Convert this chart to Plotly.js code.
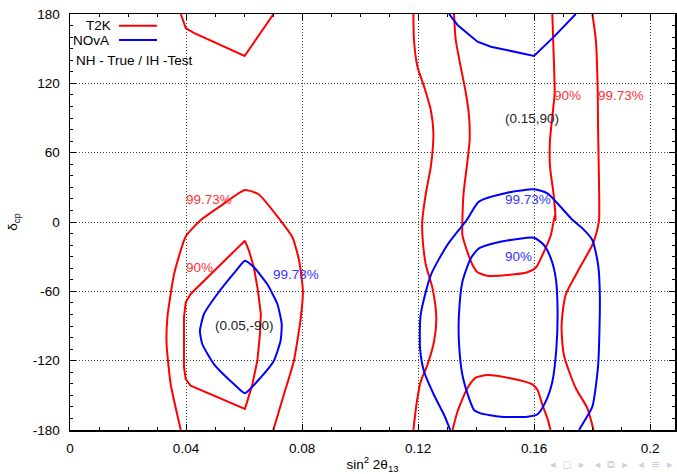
<!DOCTYPE html>
<html>
<head>
<meta charset="utf-8">
<script src="https://cdn.plot.ly/plotly-3.0.1.min.js"></script>
<style>html,body{margin:0;padding:0;background:#fff;}#chart{width:677px;height:474px;}</style>
</head>
<body>
<div id="chart"></div>
<script>
// ---- T2K (red) contours ----
// 99.73% left region, part wrapped at top
const t2k997LeftTopX = [0.0382, 0.0399, 0.0427, 0.0602, 0.0702];
const t2k997LeftTopY = [180, 167.9, 163.6, 143.7, 180];
// 99.73% left region, lower part
const t2k997LeftX = [0.0382, 0.0347, 0.0333, 0.0336, 0.0359, 0.0399, 0.0451, 0.0520, 0.0603, 0.0650, 0.0727, 0.0768, 0.0790, 0.0803, 0.0796, 0.0772, 0.0738, 0.0701];
const t2k997LeftY = [-180, -140.2, -105.6, -82.2, -45, -12.5, 1.7, 14, 27.7, 24, 0.9, -13.8, -33.5, -59.5, -82.5, -120, -148.9, -180];
// 90% left region
const t2k90LeftX = [0.0603, 0.0416, 0.0399, 0.0393, 0.0393, 0.0399, 0.0416, 0.0603, 0.0612, 0.0629, 0.0646, 0.0655, 0.0658, 0.0648, 0.0634, 0.0617, 0.0603];
const t2k90LeftY = [-16.2, -62.3, -69.5, -82.5, -125.7, -135.9, -141.7, -161.8, -154.6, -140.2, -120, -96.9, -79.6, -59.5, -39.2, -24.8, -16.2];
// 99.73% right band, left edge
const t2k997RightAX = [0.1184, 0.1186, 0.1198, 0.1221, 0.1244, 0.1253, 0.1244, 0.1227, 0.1215, 0.1215, 0.1227, 0.1250, 0.1263, 0.1255, 0.1232, 0.1209, 0.1196, 0.1184];
const t2k997RightAY = [180, 157.5, 134.4, 117.1, 96.9, 76.8, 47.9, 24.8, 1.7, -11.3, -37.2, -57.4, -83.3, -103.6, -123.8, -138.2, -155.5, -180];
// 99.73% right band, right edge
const t2k997RightBX = [0.1801, 0.1813, 0.1819, 0.1821, 0.1824, 0.1824, 0.1813, 0.1801, 0.1750, 0.1709, 0.1695, 0.1703, 0.1744, 0.1784, 0.1805];
const t2k997RightBY = [180, 157.5, 120, 76.8, 33.5, 1.7, -11.3, -19.9, -43, -63.2, -89.1, -115.1, -143.9, -161.2, -180];
// 90% right region, upper part (U shape)
const t2k90RightUpX = [0.1324, 0.1330, 0.1347, 0.1365, 0.1376, 0.1378, 0.1368, 0.1357, 0.1353, 0.1353, 0.1370, 0.1388, 0.1405, 0.1439, 0.1508, 0.1577, 0.1606, 0.1629, 0.1658, 0.1672, 0.1675, 0.1667, 0.1655, 0.1655, 0.1663, 0.1671, 0.1669, 0.1663];
const t2k90RightUpY = [180, 157.5, 134.4, 111.4, 91.1, 71, 47.9, 24.8, 1.7, -11.3, -25.7, -37.2, -43.5, -46.5, -45.9, -43.5, -39.6, -28.6, -11.3, 6.1, 1.7, 24.8, 47.9, 71, 91.1, 111.4, 134.4, 180];
// 90% right region, lower part (cap)
const t2k90RightLowX = [0.1319, 0.1336, 0.1370, 0.1399, 0.1439, 0.1519, 0.1594, 0.1612, 0.1629, 0.1646, 0.1657];
const t2k90RightLowY = [-180, -164.2, -143.9, -134.7, -132.4, -135.3, -140.5, -145.4, -158.4, -169.9, -180];

// ---- NOvA (blue) contours ----
// 99.73% left region
const nova997LeftX = [0.0603, 0.0634, 0.0680, 0.0715, 0.0730, 0.0726, 0.0703, 0.0658, 0.0603, 0.0565, 0.0496, 0.0456, 0.0448, 0.0462, 0.0508, 0.0577, 0.0603];
const nova997LeftY = [-33.5, -39.2, -53.7, -71, -88.3, -102.7, -120, -134.4, -148.2, -140.2, -122.9, -105.6, -94.1, -79.6, -62.3, -40.7, -33.5];
// 99.73% right region, part wrapped at top
const nova997RightTopX = [0.1307, 0.1336, 0.1370, 0.1405, 0.1451, 0.1600, 0.1669, 0.1744];
const nova997RightTopY = [180, 170.5, 163.3, 156, 151.7, 143.7, 160.4, 180];
// 99.73% right region, lower part
const nova997RightX = [0.1311, 0.1290, 0.1255, 0.1221, 0.1207, 0.1209, 0.1244, 0.1301, 0.1368, 0.1410, 0.1508, 0.1600, 0.1646, 0.1733, 0.1767, 0.1801, 0.1821, 0.1827, 0.1821, 0.1801, 0.1772, 0.1755];
const nova997RightY = [-180, -167, -149.7, -129.6, -109.3, -80.5, -45.9, -19.9, 1.7, 17.6, 25.4, 28.3, 24.8, 1.7, -5.5, -15.6, -37.2, -66, -123.8, -159.8, -172.8, -180];
// 90% right region
const nova90RightX = [0.1600, 0.1634, 0.1658, 0.1675, 0.1681, 0.1677, 0.1663, 0.1640, 0.1612, 0.1577, 0.1485, 0.1416, 0.1393, 0.1376, 0.1353, 0.1341, 0.1341, 0.1353, 0.1382, 0.1410, 0.1462, 0.1543, 0.1600];
const nova90RightY = [-13.6, -19.9, -31.4, -48.7, -74.7, -109.3, -138.2, -155.5, -166.4, -168.5, -168.5, -165.6, -162.7, -152.6, -132.4, -103.6, -80.5, -51.7, -31.4, -22.8, -18.4, -14.7, -13.6];

// ---- labels ----
const labelText  = ["99.73%", "90%", "99.73%", "(0.05,-90)", "90%", "99.73%", "(0.15,90)", "99.73%", "90%"];
const labelX     = [0.048, 0.0447, 0.0778, 0.0602, 0.1717, 0.1899, 0.1594, 0.158, 0.1547];
const labelY     = [19.9, -39, -45, -89.7, 109.9, 109.9, 90, 19.9, -30];
const labelKind  = ["t2k", "t2k", "nova", "point", "t2k", "t2k", "point", "nova", "nova"];

const xTicks = [0, 0.04, 0.08, 0.12, 0.16, 0.2];
const xTickText = ["0", "0.04", "0.08", "0.12", "0.16", "0.2"];
const yTicks = [-180, -120, -60, 0, 60, 120, 180];
const yTickText = ["-180", "-120", "-60", "0", "60", "120", "180"];

const RED = "#ff0000", BLUE = "#0000ff";
const FONT = "Liberation Sans, Arial, sans-serif";

function line(x, y, c, name, smooth) {
  const ln = {color: c, width: 2};
  if (smooth) { ln.shape = "spline"; ln.smoothing = smooth; }
  return {x: x, y: y, type: "scatter", mode: "lines", name: name,
          line: ln, hoverinfo: "skip", showlegend: false};
}
const traces = [
  line(t2k997LeftTopX, t2k997LeftTopY, RED, "T2K", 0),
  line(t2k997LeftX, t2k997LeftY, RED, "T2K", 0.5),
  line(t2k90LeftX, t2k90LeftY, RED, "T2K", 0),
  line(t2k997RightAX, t2k997RightAY, RED, "T2K", 0.7),
  line(t2k997RightBX, t2k997RightBY, RED, "T2K", 0.7),
  line(t2k90RightUpX, t2k90RightUpY, RED, "T2K", 0.6),
  line(t2k90RightLowX, t2k90RightLowY, RED, "T2K", 0.6),
  line(nova997LeftX, nova997LeftY, BLUE, "NOvA", 0.5),
  line(nova997RightTopX, nova997RightTopY, BLUE, "NOvA", 0),
  line(nova997RightX, nova997RightY, BLUE, "NOvA", 0.6),
  line(nova90RightX, nova90RightY, BLUE, "NOvA", 0.6)
];

const kindColor = {t2k: "#ff3333", nova: "#3333ff", point: "#222222"};
const annotations = labelText.map((t, i) => ({
  x: labelX[i], y: labelY[i], xref: "x", yref: "y", text: t, showarrow: false,
  xanchor: "center", yanchor: "middle",
  font: {family: FONT, size: 13.5, color: kindColor[labelKind[i]]}
}));
// legend (gnuplot style: text then line sample)
annotations.push(
  {x: 0.0705, y: 0.972, xref: "paper", yref: "paper", text: "T2K", showarrow: false, xanchor: "right", yanchor: "middle", font: {family: FONT, size: 13.5, color: "#000"}},
  {x: 0.0675, y: 0.9375, xref: "paper", yref: "paper", text: "NOvA", showarrow: false, xanchor: "right", yanchor: "middle", font: {family: FONT, size: 13.5, color: "#000"}},
  {x: 0.007, y: 0.889, xref: "paper", yref: "paper", text: "NH - True / IH -Test", showarrow: false, xanchor: "left", yanchor: "middle", font: {family: FONT, size: 13.5, color: "#000"}},
  {x: 1.0, y: -0.082, xref: "paper", yref: "paper", text: "◂  ◻  ▸   ◂  ⧉  ▸   ◂  ≡  ▸", showarrow: false, xanchor: "right", yanchor: "middle", font: {family: "DejaVu Sans", size: 11, color: "#d4cce4"}}
);
const shapes = [
  {type: "line", xref: "paper", yref: "paper", x0: 0.081, x1: 0.1438, y0: 0.972, y1: 0.972, line: {color: RED, width: 2}},
  {type: "line", xref: "paper", yref: "paper", x0: 0.081, x1: 0.1438, y0: 0.9375, y1: 0.9375, line: {color: BLUE, width: 2}}
];

const axisCommon = {
  showline: true, linecolor: "#000", linewidth: 1.5, mirror: "ticks",
  ticks: "inside", ticklen: 6, tickwidth: 1, tickcolor: "#000",
  showgrid: true, gridcolor: "#444", griddash: "1px,2px", gridwidth: 1,
  zeroline: false, tickfont: {family: FONT, size: 13.5, color: "#000"}
};
const layout = {
  width: 677, height: 474,
  margin: {l: 70, r: 2, t: 14, b: 44},
  paper_bgcolor: "#fff", plot_bgcolor: "#fff",
  showlegend: false,
  font: {family: FONT, size: 13.5, color: "#000"},
  xaxis: Object.assign({}, axisCommon, {
    range: [0, 0.2086], tickmode: "array", tickvals: xTicks, ticktext: xTickText,
    minor: {dtick: 0.01, tick0: 0, ticks: "inside", ticklen: 3, tickcolor: "#000", showgrid: false},
    ticklabelstandoff: 5,
    title: {text: "sin<sup>2</sup> 2θ<sub>13</sub>", font: {family: FONT, size: 13.5, color: "#000"}, standoff: 6}
  }),
  yaxis: Object.assign({}, axisCommon, {
    range: [-180, 180], tickmode: "array", tickvals: yTicks, ticktext: yTickText,
    minor: {dtick: 10, tick0: 0, ticks: "inside", ticklen: 3, tickcolor: "#000", showgrid: false},
    ticklabelstandoff: 6,
    title: {text: "δ<sub>cp</sub>", font: {family: FONT, size: 13.5, color: "#000"}, standoff: 12}
  }),
  annotations: annotations,
  shapes: shapes
};
Plotly.newPlot("chart", traces, layout, {staticPlot: true, displayModeBar: false});
</script>
</body>
</html>
